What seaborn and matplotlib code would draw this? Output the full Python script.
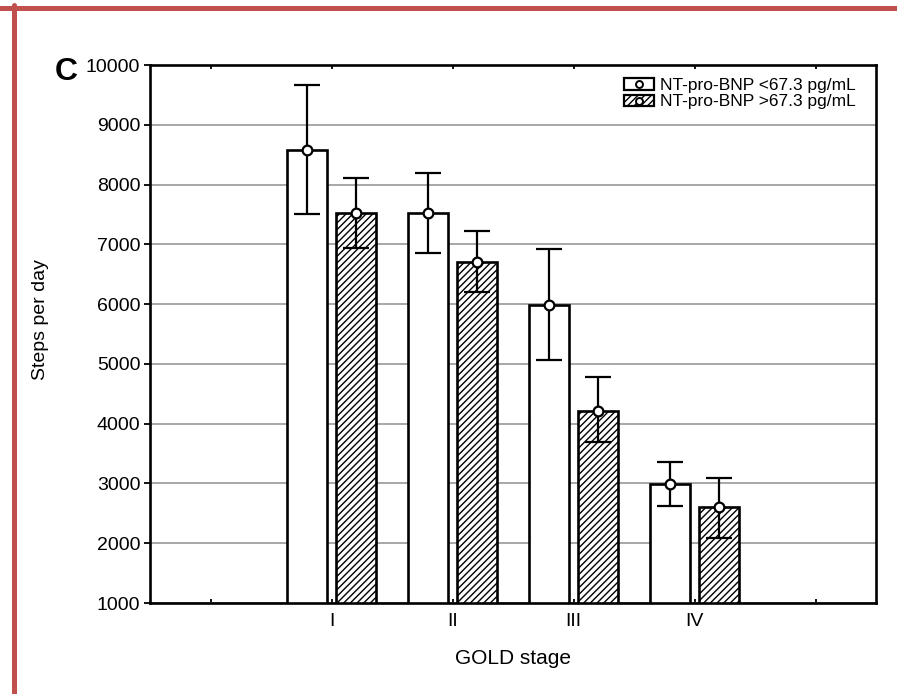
import matplotlib
matplotlib.use("Agg")
import matplotlib.pyplot as plt
from matplotlib.lines import Line2D
from matplotlib.patches import Rectangle
from matplotlib.legend_handler import HandlerTuple
import seaborn as sns
import pandas as pd

# GOLD stages and the two NT-pro-BNP groups
stages = ["I", "II", "III", "IV"]
groups = ["NT-pro-BNP <67.3 pg/mL", "NT-pro-BNP >67.3 pg/mL"]

# Mean steps per day and error-bar limits for each group
low_bnp_mean = [8580, 7530, 5990, 2990]
low_bnp_lo = [7510, 6860, 5060, 2620]
low_bnp_hi = [9670, 8200, 6930, 3360]

high_bnp_mean = [7530, 6710, 4210, 2600]
high_bnp_lo = [6945, 6195, 3690, 2090]
high_bnp_hi = [8110, 7230, 4775, 3090]

yticks = list(range(1000, 10001, 1000))

df = pd.DataFrame({
    "stage": stages * 2,
    "group": [groups[0]] * 4 + [groups[1]] * 4,
    "steps": low_bnp_mean + high_bnp_mean,
})

sns.set_theme(style="white")
plt.rcParams["font.family"] = ["Liberation Sans", "DejaVu Sans"]
plt.rcParams["hatch.linewidth"] = 1.0
plt.rcParams["text.color"] = "black"

fig = plt.figure(figsize=(8.97, 6.94), dpi=100)
ax = fig.add_axes([150 / 897, 1 - 603 / 694, (876 - 150) / 897, (603 - 65) / 694])

sns.barplot(
    data=df, x="stage", y="steps", hue="group", order=stages, hue_order=groups,
    palette=["white", "white"], edgecolor="black", linewidth=1.9,
    gap=0.17, errorbar=None, legend=False, ax=ax, zorder=2,
)

# Hatch the second group
for bar in ax.containers[1]:
    bar.set_hatch("/////")
    bar.set_edgecolor("black")

# Error bars with open circles at the means
series = [(low_bnp_mean, low_bnp_lo, low_bnp_hi), (high_bnp_mean, high_bnp_lo, high_bnp_hi)]
for cont, (m, lo, hi) in zip(ax.containers, series):
    xs = [b.get_x() + b.get_width() / 2 for b in cont]
    yerr = [[a - b for a, b in zip(m, lo)], [b - a for a, b in zip(m, hi)]]
    ax.errorbar(xs, m, yerr=yerr, fmt="o", ms=7, mfc="white", mec="black", mew=1.6,
                ecolor="black", elinewidth=1.6, capsize=9.5, capthick=1.8, zorder=4)

ax.set_xlim(-1.5, 4.5)
ax.set_ylim(1000, 10000)
ax.set_yticks(yticks)
ax.set_yticklabels([str(v) for v in yticks])
ax.set_xticks([-1, 0, 1, 2, 3, 4])
ax.set_xticklabels([""] + stages + [""])

ax.yaxis.grid(True, color="#a0a0a0", linewidth=1.3)
ax.set_axisbelow(True)
for sp in ax.spines.values():
    sp.set_visible(True)
    sp.set_color("black")
    sp.set_linewidth(1.9)

ax.tick_params(axis="y", direction="out", length=4, width=1.3, left=True,
               labelsize=14, pad=3, colors="black")
ax.tick_params(axis="x", direction="in", length=3, width=1.3, bottom=True, top=True,
               labelsize=14, pad=7, colors="black")

ax.set_xlabel("GOLD stage", fontsize=15, labelpad=14, color="black")
ax.set_ylabel("Steps per day", fontsize=14, color="black")
ax.yaxis.set_label_coords(-0.139, 0.526)

# Legend: boxes with the mean marker drawn inside
handles = []
for hatch in ["", "/////"]:
    box = Rectangle((0, 0), 1, 1, facecolor="white", edgecolor="black", linewidth=1.6, hatch=hatch)
    dot = Line2D([], [], marker="o", ms=5, mfc="white", mec="black", mew=1.4, linestyle="none")
    handles.append((box, dot))
ax.legend(handles, groups, handler_map={tuple: HandlerTuple(ndivide=1)},
          loc="upper right", bbox_to_anchor=(856 / 897, 1 - 78 / 694),
          bbox_transform=fig.transFigure, frameon=False, fontsize=12.5,
          handlelength=1.75, handleheight=0.62, handletextpad=0.35,
          labelspacing=0.08, borderpad=0, borderaxespad=0)

fig.text(55 / 897, 1 - 72 / 694, "C", fontsize=23, fontweight="bold", va="center",
         ha="left", color="black")

# Red frame along the top and left edges
red = "#C0504D"
fig.add_artist(Line2D([0, 1], [1 - 7.5 / 694] * 2, color=red, linewidth=3.6, transform=fig.transFigure))
fig.add_artist(Line2D([14 / 897] * 2, [0, 1 - 5 / 694], color=red, linewidth=3.6, transform=fig.transFigure))

fig.savefig("out.png", dpi=100)
